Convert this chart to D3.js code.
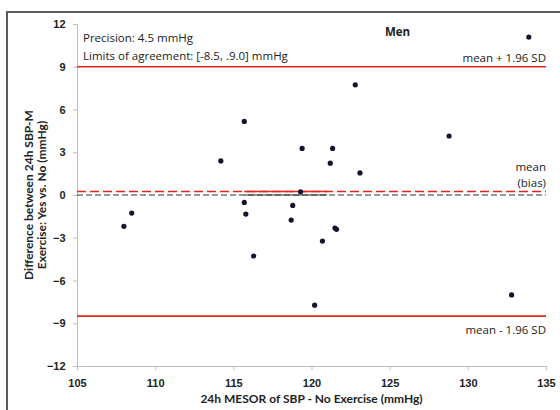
<!DOCTYPE html>
<html>
<head>
<meta charset="utf-8">
<script src="https://cdn.jsdelivr.net/npm/d3@7"></script>
<style>
  body { margin: 0; background: #fff; }
  svg { font-family: Lato, "Open Sans", sans-serif; }
  .axis path, .axis line { stroke: #bdbdbd; }
  .axis text { fill: #222; font-size: 11px; font-weight: bold; }
  .lab { font-family: "Open Sans", sans-serif; font-size: 11.5px; }
</style>
</head>
<body>
<svg width="560" height="410"></svg>
<script>
// 24h MESOR of SBP, no exercise (x) vs difference yes - no (y)
var mesorNoEx = [122.8, 133.9, 128.8, 119.4, 121.35, 121.2, 123.1, 119.3, 115.7, 114.2, 108.0,
    108.5, 115.7, 115.8, 116.3, 118.8, 118.7, 121.5, 121.6, 120.7, 120.2, 132.8];
var diffSBP = [7.73, 11.08, 4.14, 3.27, 3.27, 2.23, 1.55, 0.22, 5.16, 2.39, -2.2,
    -1.27, -0.52, -1.34, -4.28, -0.73, -1.76, -2.32, -2.41, -3.23, -7.73, -7.01];
var xTicks = [105, 110, 115, 120, 125, 130, 135];
var yTicks = [-12, -9, -6, -3, 0, 3, 6, 9, 12];
var bias = 0.25;
var limits = [-8.5, 9.0];
var biasSolid = [115.7, 121.0]; // short solid piece on the mean lines

var svg = d3.select("svg"),
    margin = {top: 24, right: 14, bottom: 44, left: 77},
    width = +svg.attr("width") - margin.left - margin.right,
    height = +svg.attr("height") - margin.top - margin.bottom;

// outer frame
svg.append("rect")
    .attr("x", 7).attr("y", 12)
    .attr("width", 560).attr("height", 410)
    .attr("fill", "none")
    .attr("stroke", "#5a5a5a")
    .attr("stroke-width", 2);

var g = svg.append("g")
    .attr("transform", "translate(" + margin.left + "," + margin.top + ")");

var x = d3.scaleLinear().domain([105, 135]).range([0, width]);
var y = d3.scaleLinear().domain([-12, 12]).range([height, 0]);

g.append("g")
    .attr("class", "axis")
    .attr("transform", "translate(0," + height + ")")
    .call(d3.axisBottom(x).tickValues(xTicks).tickSize(4).tickSizeOuter(4))
    .selectAll("text").attr("dy", "1.25em");

g.append("g")
    .attr("class", "axis")
    .call(d3.axisLeft(y).tickValues(yTicks).tickSize(4).tickSizeOuter(4)
        .tickFormat(d3.format("d")))
    .selectAll("text").attr("dx", "-0.4em");

// zero line
g.append("line")
    .attr("x1", x(105)).attr("x2", x(135))
    .attr("y1", y(0)).attr("y2", y(0))
    .attr("stroke", "#333").attr("stroke-width", 1.2)
    .attr("stroke-dasharray", "6,3");

// limits of agreement
g.selectAll(".loa")
    .data(limits)
    .enter().append("line")
    .attr("class", "loa")
    .attr("x1", x(105)).attr("x2", x(135))
    .attr("y1", function(d) { return y(d); })
    .attr("y2", function(d) { return y(d); })
    .attr("stroke", "#e8231c").attr("stroke-width", 1.6);

// bias
g.append("line")
    .attr("x1", x(105)).attr("x2", x(135))
    .attr("y1", y(bias)).attr("y2", y(bias))
    .attr("stroke", "#e8231c").attr("stroke-width", 1.6)
    .attr("stroke-dasharray", "9,4");

g.append("line")
    .attr("x1", x(biasSolid[0])).attr("x2", x(biasSolid[1]))
    .attr("y1", y(bias)).attr("y2", y(bias))
    .attr("stroke", "#e8231c").attr("stroke-width", 1.6);
g.append("line")
    .attr("x1", x(biasSolid[0])).attr("x2", x(biasSolid[1]))
    .attr("y1", y(0)).attr("y2", y(0))
    .attr("stroke", "#333").attr("stroke-width", 1.2);

// points
g.selectAll(".dot")
    .data(mesorNoEx)
    .enter().append("circle")
    .attr("class", "dot")
    .attr("cx", function(d) { return x(d); })
    .attr("cy", function(d, i) { return y(diffSBP[i]); })
    .attr("r", 2.6)
    .attr("fill", "#141432");

// labels
var lab = g.append("g").attr("class", "lab").attr("fill", "#222");
lab.append("text").attr("x", 6).attr("y", 18).text("Precision: 4.5 mmHg");
lab.append("text").attr("x", 6).attr("y", 36).text("Limits of agreement: [-8.5, .9.0] mmHg");
lab.append("text").attr("x", x(125.5)).attr("y", 12).attr("text-anchor", "middle")
    .style("font-weight", "bold").text("Men");
lab.append("text").attr("x", width).attr("y", y(limits[1]) - 5).attr("text-anchor", "end")
    .text("mean + 1.96 SD");
lab.append("text").attr("x", width).attr("y", y(bias) - 20).attr("text-anchor", "end")
    .text("mean");
lab.append("text").attr("x", width).attr("y", y(bias) - 4).attr("text-anchor", "end")
    .text("(bias)");
lab.append("text").attr("x", width).attr("y", y(limits[0]) + 18).attr("text-anchor", "end")
    .text("mean - 1.96 SD");

// axis titles
g.append("text")
    .attr("x", width / 2).attr("y", height + 37)
    .attr("text-anchor", "middle")
    .style("font-size", "12px").style("font-weight", "bold").attr("fill", "#222")
    .text("24h MESOR of SBP - No Exercise (mmHg)");

var yt = g.append("text")
    .attr("transform", "translate(-44," + (height / 2) + ") rotate(-90)")
    .attr("text-anchor", "middle")
    .style("font-size", "12px").style("font-weight", "bold").attr("fill", "#222");
yt.append("tspan").attr("x", 0).attr("dy", 0).text("Difference between 24h SBP-M");
yt.append("tspan").attr("x", 0).attr("dy", "1.05em").text("Exercise: Yes vs. No (mmHg)");
</script>
</body>
</html>
